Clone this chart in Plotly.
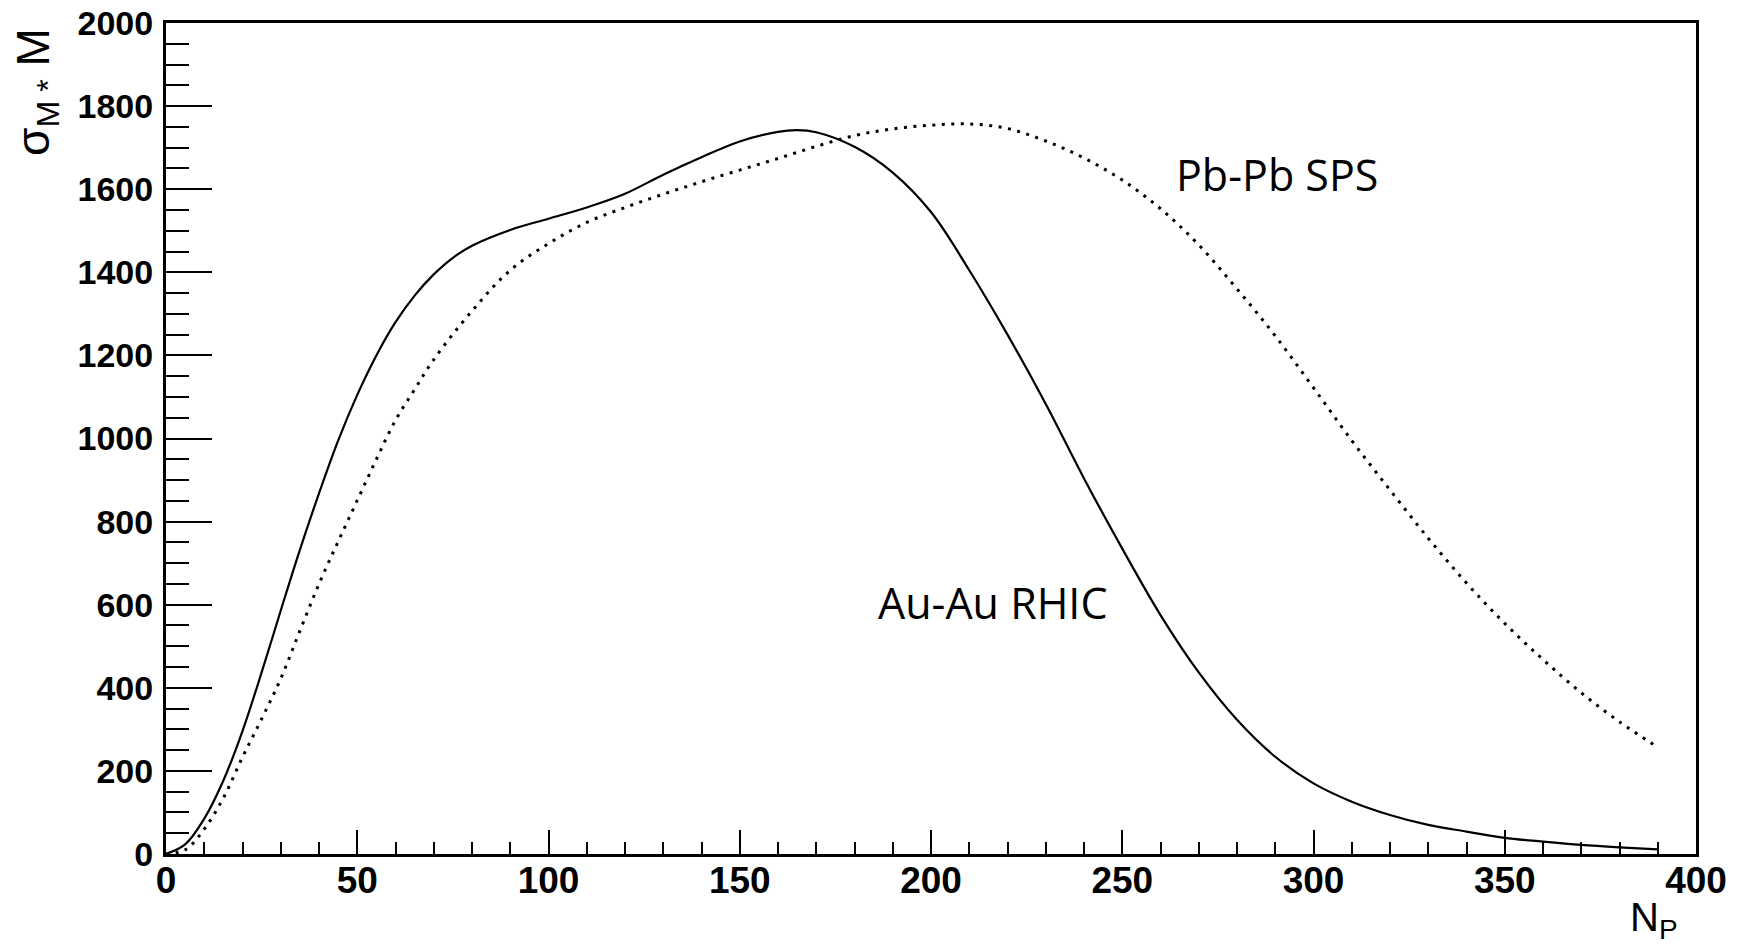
import plotly.graph_objects as go

# ---- data ----
np_au = [0, 5, 10, 15, 20, 25, 30, 35, 40, 45, 50, 55, 60, 65, 70, 75, 80, 90, 100, 110, 120,
         130, 140, 150, 160, 165, 170, 180, 190, 200, 210, 220, 230, 240, 250, 260, 270,
         280, 290, 300, 310, 320, 330, 340, 350, 360, 370, 380, 390]
sigma_au = [0, 23, 85, 177, 296, 437, 586, 732, 868, 995, 1105, 1200, 1280, 1344, 1395, 1435,
            1464, 1502, 1529, 1556, 1589, 1635, 1677, 1715, 1738, 1742, 1737, 1702, 1640,
            1545, 1405, 1250, 1083, 904, 735, 575, 437, 323, 234, 170, 126, 94, 70, 54, 39,
            30, 22, 16, 11]

np_pb = [0, 5, 10, 15, 20, 25, 30, 35, 40, 45, 50, 55, 60, 65, 70, 80, 90, 100, 110, 120, 130,
         140, 150, 160, 170, 180, 190, 200, 210, 220, 230, 240, 250, 260, 270, 280, 290, 300,
         310, 320, 330, 340, 350, 360, 370, 380, 390]
sigma_pb = [0, 10, 60, 135, 233, 325, 422, 537, 650, 752, 851, 950, 1044, 1118, 1190, 1307,
            1405, 1469, 1520, 1556, 1588, 1618, 1646, 1674, 1703, 1729, 1745, 1754, 1757,
            1746, 1716, 1675, 1622, 1553, 1466, 1360, 1247, 1122, 995, 876, 760, 652, 555,
            468, 388, 318, 257]

labels = ["Au-Au RHIC", "Pb-Pb SPS"]
label_pos = [(185.7, 605), (263.5, 1636)]

fig = go.Figure()
fig.add_trace(go.Scatter(x=np_au, y=sigma_au, mode="lines",
                         line=dict(color="black", width=2.2, shape="spline", smoothing=1.0),
                         showlegend=False, hoverinfo="skip"))
fig.add_trace(go.Scatter(x=np_pb, y=sigma_pb, mode="lines",
                         line=dict(color="black", width=3, shape="spline", smoothing=1.0,
                                   dash="3px,6.5px"),
                         showlegend=False, hoverinfo="skip"))

font_fam = "Liberation Sans, Arial, sans-serif"
xtickfont = dict(family=font_fam, size=37, color="black", weight="bold")
ytickfont = dict(family=font_fam, size=34, color="black", weight="bold")

fig.update_xaxes(range=[0, 400], dtick=50, tick0=0, ticks="inside", ticklen=24, tickwidth=2,
                 tickcolor="black", showline=True, linewidth=3, linecolor="black", mirror=True,
                 showgrid=False, zeroline=False, tickfont=xtickfont, ticklabelstandoff=-8,
                 automargin=False,
                 minor=dict(dtick=10, tick0=0, ticks="inside", ticklen=12, tickwidth=2,
                            tickcolor="black", showgrid=False))
fig.update_yaxes(range=[0, 2000], dtick=200, tick0=0, ticks="inside", ticklen=46, tickwidth=2,
                 tickcolor="black", showline=True, linewidth=3, linecolor="black", mirror=True,
                 showgrid=False, zeroline=False, tickfont=ytickfont, ticklabelstandoff=3,
                 automargin=False,
                 minor=dict(dtick=50, tick0=0, ticks="inside", ticklen=23, tickwidth=2,
                            tickcolor="black", showgrid=False))

annotations = []
for txt, (ax, ay) in zip(labels, label_pos):
    annotations.append(dict(x=ax, y=ay, xref="x", yref="y", text=txt, showarrow=False,
                            xanchor="left", yanchor="middle",
                            font=dict(family="Open Sans, Noto Sans, sans-serif", size=43,
                                      color="black")))
# axis titles (ROOT style, aligned to the axis ends)
annotations.append(dict(x=(36 - 166) / 1530, y=(854 - 26) / 831, xref="paper", yref="paper",
                        text="σ<sub>M *</sub> M", showarrow=False, textangle=-90,
                        xanchor="center", yanchor="top",
                        font=dict(family=font_fam, size=46, color="black")))
annotations.append(dict(x=(1680 - 166) / 1530, y=(854 - 893) / 831, xref="paper", yref="paper",
                        text="N<sub>P</sub>", showarrow=False,
                        xanchor="right", yanchor="top",
                        font=dict(family=font_fam, size=40, color="black")))

fig.update_layout(width=1744, height=944, autosize=False,
                  margin=dict(l=166, r=48, t=23, b=90, pad=0),
                  plot_bgcolor="white", paper_bgcolor="white",
                  annotations=annotations)

fig.write_html("out.html", config={"displayModeBar": False},
               post_script="document.body.style.margin='0';document.body.style.overflow='hidden';")
